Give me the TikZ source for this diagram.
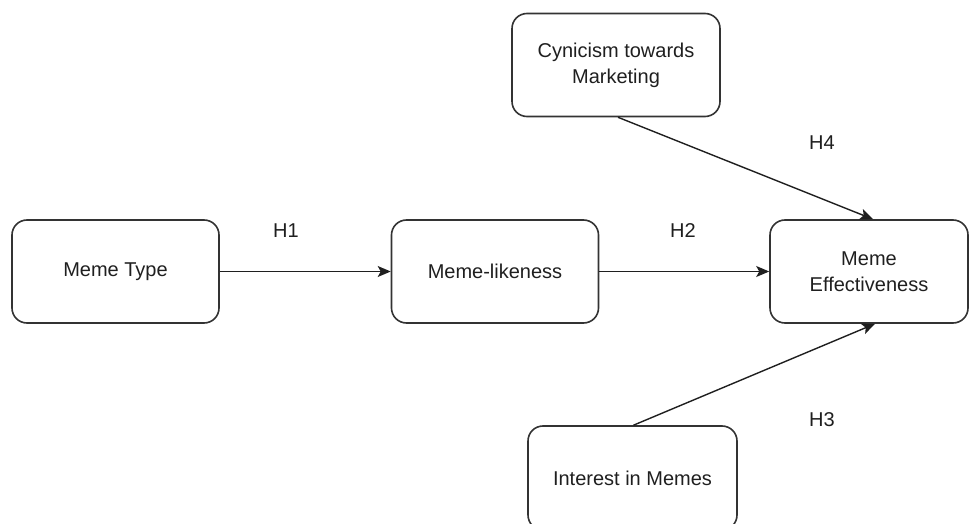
\documentclass[tikz,border=0pt]{standalone}
\usepackage{fontspec}
\setmainfont{Liberation Sans}
\usetikzlibrary{arrows.meta}
\definecolor{ink}{HTML}{1F1F1F}
\definecolor{edge}{HTML}{333333}
\begin{document}
\begin{tikzpicture}[x=1pt,y=-1pt,
  box/.style={draw=edge, line width=1.6pt, rounded corners=15pt, minimum width=207pt, minimum height=103pt, align=center, text=ink, font=\fontsize{20}{26}\selectfont, inner sep=0pt},
  conn/.style={draw=ink, line width=1.4pt, -{Stealth[length=13pt,width=11pt,inset=3pt]}},
  lab/.style={text=ink, font=\fontsize{20}{24}\selectfont, inner sep=0pt}]
\clip (0,0) rectangle (970,524);
\useasboundingbox (0,0) rectangle (970,524);
\node[box] (type) at (115.5,271.5) {Meme Type};
\node[box] (like) at (495,271.5) {Meme-likeness};
\node[box, minimum width=198pt] (eff) at (869,271.5) {Meme\\Effectiveness};
\node[box, minimum width=208pt] (cyn) at (616,65) {Cynicism towards\\Marketing};
\node[box, minimum width=209pt, minimum height=104pt] (int) at (632.5,478) {Interest in Memes};
\draw[conn] (type.east) -- (like.west);
\draw[conn] (like.east) -- (eff.west);
\draw[conn] ([xshift=2pt]cyn.south) -- ([xshift=4pt]eff.north);
\draw[conn] ([xshift=1pt]int.north) -- ([xshift=6pt]eff.south);
\node[lab] (h1) at (286,231) {H1};
\node[lab] (h2) at (683,231) {H2};
\node[lab] (h4) at (822,143) {H4};
\node[lab] (h3) at (822,420) {H3};
\end{tikzpicture}
\end{document}
